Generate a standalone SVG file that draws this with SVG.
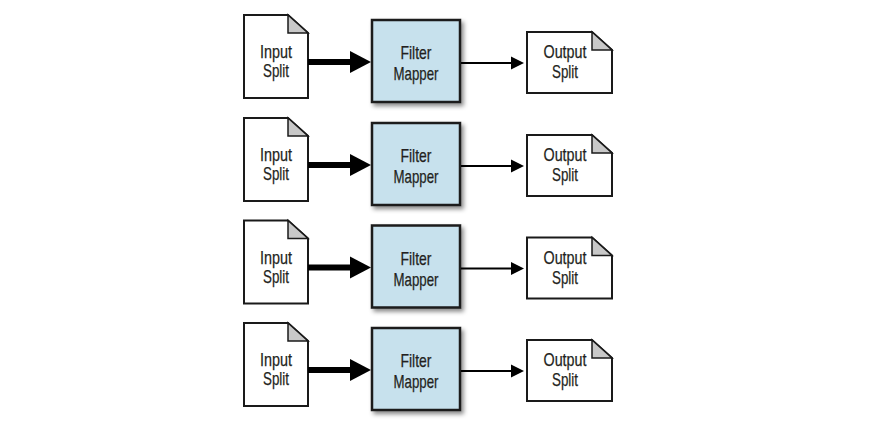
<svg xmlns="http://www.w3.org/2000/svg" width="874" height="432" viewBox="0 0 874 432">
<defs>
<style>
.doc{fill:#fff;stroke:#1a1a1a;stroke-width:2;stroke-linejoin:miter}
.fold{fill:#c8c8c8;stroke:#1a1a1a;stroke-width:1.5;stroke-linejoin:miter}
.map{fill:#c7e1ed;stroke:#1a1a1a;stroke-width:2.5}
.t{font-family:"Liberation Sans",Arial,sans-serif;font-size:18.5px;fill:#231f20;text-anchor:middle;stroke:#231f20;stroke-width:0.25}
.thick{stroke:#000;stroke-width:6;fill:none}
.thin{stroke:#000;stroke-width:2;fill:none}
.head{fill:#000}
</style>
<filter id="sh" x="-20%" y="-20%" width="150%" height="150%">
<feDropShadow dx="2.5" dy="3" stdDeviation="2" flood-color="#000" flood-opacity="0.45"/>
</filter>
<g id="inputShape">
<path class="doc" d="M244,15 H288 L308,33 V98 H244 Z"/>
<path class="fold" d="M288,15 V33 H308 Z"/>
</g>
<g id="outputShape">
<path class="doc" d="M527,32 H592 L612,50 V93 H527 Z"/>
<path class="fold" d="M592,32 V50 H612 Z"/>
</g>
<rect id="mapShape" class="map" x="372" y="20" width="88" height="82" filter="url(#sh)"/>
<g id="arrows">
<line class="thick" x1="308" y1="62" x2="353" y2="62"/>
<polygon class="head" points="350,51 371,62 350,73"/>
<line class="thin" x1="461" y1="63" x2="513" y2="63"/>
<polygon class="head" points="511,56.5 524,63 511,69.5"/>
</g>
</defs>
<rect width="874" height="432" fill="#fff"/>

<g id="input1"><use href="#inputShape"/>
<text class="t" x="276" y="58" textLength="32" lengthAdjust="spacingAndGlyphs">Input</text>
<text class="t" x="276" y="77" textLength="26" lengthAdjust="spacingAndGlyphs">Split</text></g>
<g id="mapper1"><use href="#mapShape"/>
<text class="t" x="416" y="59" textLength="31" lengthAdjust="spacingAndGlyphs">Filter</text>
<text class="t" x="416" y="80" textLength="45" lengthAdjust="spacingAndGlyphs">Mapper</text></g>
<g id="output1"><use href="#outputShape"/>
<text class="t" x="565" y="58" textLength="43" lengthAdjust="spacingAndGlyphs">Output</text>
<text class="t" x="565" y="78" textLength="26" lengthAdjust="spacingAndGlyphs">Split</text></g>

<g id="input2" transform="translate(0,103)"><use href="#inputShape"/>
<text class="t" x="276" y="58" textLength="32" lengthAdjust="spacingAndGlyphs">Input</text>
<text class="t" x="276" y="77" textLength="26" lengthAdjust="spacingAndGlyphs">Split</text></g>
<g id="mapper2" transform="translate(0,103)"><use href="#mapShape"/>
<text class="t" x="416" y="59" textLength="31" lengthAdjust="spacingAndGlyphs">Filter</text>
<text class="t" x="416" y="80" textLength="45" lengthAdjust="spacingAndGlyphs">Mapper</text></g>
<g id="output2" transform="translate(0,103)"><use href="#outputShape"/>
<text class="t" x="565" y="58" textLength="43" lengthAdjust="spacingAndGlyphs">Output</text>
<text class="t" x="565" y="78" textLength="26" lengthAdjust="spacingAndGlyphs">Split</text></g>

<g id="input3" transform="translate(0,205.5)"><use href="#inputShape"/>
<text class="t" x="276" y="58" textLength="32" lengthAdjust="spacingAndGlyphs">Input</text>
<text class="t" x="276" y="77" textLength="26" lengthAdjust="spacingAndGlyphs">Split</text></g>
<g id="mapper3" transform="translate(0,205.5)"><use href="#mapShape"/>
<text class="t" x="416" y="59" textLength="31" lengthAdjust="spacingAndGlyphs">Filter</text>
<text class="t" x="416" y="80" textLength="45" lengthAdjust="spacingAndGlyphs">Mapper</text></g>
<g id="output3" transform="translate(0,205.5)"><use href="#outputShape"/>
<text class="t" x="565" y="58" textLength="43" lengthAdjust="spacingAndGlyphs">Output</text>
<text class="t" x="565" y="78" textLength="26" lengthAdjust="spacingAndGlyphs">Split</text></g>

<g id="input4" transform="translate(0,308)"><use href="#inputShape"/>
<text class="t" x="276" y="58" textLength="32" lengthAdjust="spacingAndGlyphs">Input</text>
<text class="t" x="276" y="77" textLength="26" lengthAdjust="spacingAndGlyphs">Split</text></g>
<g id="mapper4" transform="translate(0,308)"><use href="#mapShape"/>
<text class="t" x="416" y="59" textLength="31" lengthAdjust="spacingAndGlyphs">Filter</text>
<text class="t" x="416" y="80" textLength="45" lengthAdjust="spacingAndGlyphs">Mapper</text></g>
<g id="output4" transform="translate(0,308)"><use href="#outputShape"/>
<text class="t" x="565" y="58" textLength="43" lengthAdjust="spacingAndGlyphs">Output</text>
<text class="t" x="565" y="78" textLength="26" lengthAdjust="spacingAndGlyphs">Split</text></g>

<g id="connectors">
<use href="#arrows"/>
<use href="#arrows" transform="translate(0,103)"/>
<use href="#arrows" transform="translate(0,205.5)"/>
<use href="#arrows" transform="translate(0,308)"/>
</g>
</svg>
